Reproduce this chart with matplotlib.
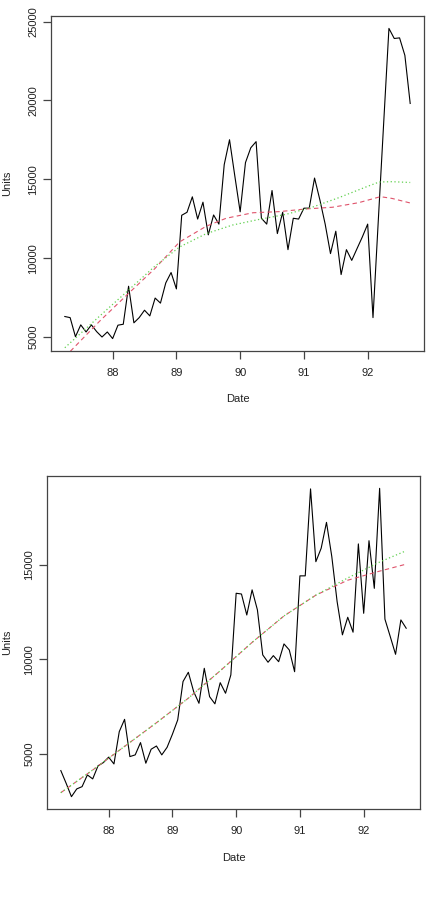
import numpy as np
import matplotlib
matplotlib.use('Agg')
import matplotlib.pyplot as plt

# Monthly series, Apr 1987 .. Sep 1992 (66 months)
start_year = 87.25
n_months = 66
dates = start_year + np.arange(n_months) / 12.0

units_top = [6300, 6230, 5020, 5770, 5320, 5770, 5340, 5000, 5320, 4900,
             5750, 5810, 8220, 5900, 6230, 6700, 6340, 7470, 7150, 8430,
             9090, 8050, 12720, 12910, 13890, 12480, 13550, 11480, 12740, 12160,
             15930, 17510, 15200, 12940, 16060, 17000, 17390, 12530, 12160, 14290,
             11560, 12910, 10540, 12530, 12480, 13170, 13170, 15080, 13700, 12160,
             10290, 11710, 8960, 10540, 9860, 10610, 11350, 12160, 6230, 12400,
             18500, 24570, 23930, 23970, 22860, 19810]

units_bottom = [4120, 3450, 2740, 3150, 3270, 3890, 3680, 4370, 4540, 4830,
                4470, 6180, 6830, 4860, 4950, 5600, 4510, 5250, 5420, 4950,
                5350, 6040, 6800, 8830, 9320, 8300, 7680, 9530, 8030, 7650,
                8770, 8210, 9180, 13500, 13460, 12350, 13680, 12620, 10240, 9850,
                10200, 9880, 10820, 10500, 9350, 14420, 14420, 19020, 15170, 15880,
                17250, 15440, 13060, 11300, 12230, 11440, 16110, 12440, 16280, 13760,
                19050, 12130, 11210, 10270, 12090, 11650]

# smoothed fits
fit_top_dates = [87.25, 87.35, 87.80, 88.24, 88.66, 89.05, 89.47, 89.78, 90.20,
                 90.61, 91.03, 91.45, 91.86, 92.20, 92.38, 92.667]
fit_top_red = [3750, 4150, 6020, 7730, 9330, 11030, 12030, 12530, 12880,
               12950, 13120, 13230, 13520, 13900, 13790, 13500]
fit_top_green_dates = [87.25, 87.80, 88.24, 88.66, 89.05, 89.47, 89.88, 90.30,
                       90.72, 91.13, 91.55, 91.97, 92.18, 92.38, 92.667]
fit_top_green = [4320, 6340, 7940, 9480, 10710, 11560, 12100, 12460,
                 12780, 13230, 13840, 14510, 14830, 14850, 14800]

fit_bot_dates = [87.25, 87.75, 88.25, 88.75, 89.25, 89.75, 90.25, 90.75,
                 91.25, 91.75, 92.25, 92.667]
fit_bot_red = [2950, 4150, 5400, 6650, 7950, 9400, 10900, 12300,
               13400, 14190, 14670, 15040]
fit_bot_green = [2950, 4150, 5400, 6650, 7950, 9400, 10900, 12300,
                 13400, 14310, 15150, 15750]

xticks = [88, 89, 90, 91, 92]
yticks_top = [5000, 10000, 15000, 20000, 25000]
yticks_bottom = [5000, 10000, 15000]

RED = '#DF536B'
GREEN = '#61D04F'
AXCOL = '#444444'
TXTCOL = '#222222'

plt.rcParams['font.family'] = ['Liberation Sans', 'DejaVu Sans']

fig = plt.figure(figsize=(4.28, 8.98), dpi=100)
ax1 = fig.add_axes([51 / 428, 1 - 351 / 898, 373 / 428, 335 / 898])
ax2 = fig.add_axes([47 / 428, 1 - 809 / 898, 373 / 428, 333 / 898])


def r_limits(vals):
  # R pads the data range by 4% on each side
  lo, hi = min(vals), max(vals)
  d = (hi - lo) * 0.04
  return lo - d, hi + d


panels = [
  (ax1, units_top, fit_top_dates, fit_top_red, fit_top_green_dates, fit_top_green,
   yticks_top, -0.128, -0.104),
  (ax2, units_bottom, fit_bot_dates, fit_bot_red, fit_bot_dates, fit_bot_green,
   yticks_bottom, -0.132, -0.094),
]

for ax, y, fdr, fr, fdg, fg, yt, xlab_y, ylab_x in panels:
  ax.plot(dates, y, color='black', lw=0.8)
  ax.plot(fdr, fr, color=RED, lw=0.8, linestyle=(0, (4, 3)))
  ax.plot(fdg, fg, color=GREEN, lw=0.9, linestyle=(0, (1, 2)))

  ax.set_xlim(r_limits(dates))
  ax.set_ylim(r_limits(y))
  ax.set_xticks(xticks)
  ax.set_xticklabels([str(t) for t in xticks])
  ax.set_yticks(yt)
  ax.set_yticklabels([str(t) for t in yt], rotation=90, va='center')

  for s in ax.spines.values():
    s.set_color(AXCOL)
    s.set_linewidth(0.9)
  ax.tick_params(axis='both', direction='out', length=6, width=0.9,
                 color=AXCOL, labelcolor=TXTCOL, labelsize=8)
  ax.tick_params(axis='x', pad=6)
  ax.tick_params(axis='y', pad=3)

  ax.set_xlabel('Date', fontsize=8, color=TXTCOL)
  ax.set_ylabel('Units', fontsize=8, color=TXTCOL)
  ax.xaxis.set_label_coords(0.5, xlab_y)
  ax.yaxis.set_label_coords(ylab_x, 0.5)

fig.savefig('out.png', dpi=100, facecolor='white')
